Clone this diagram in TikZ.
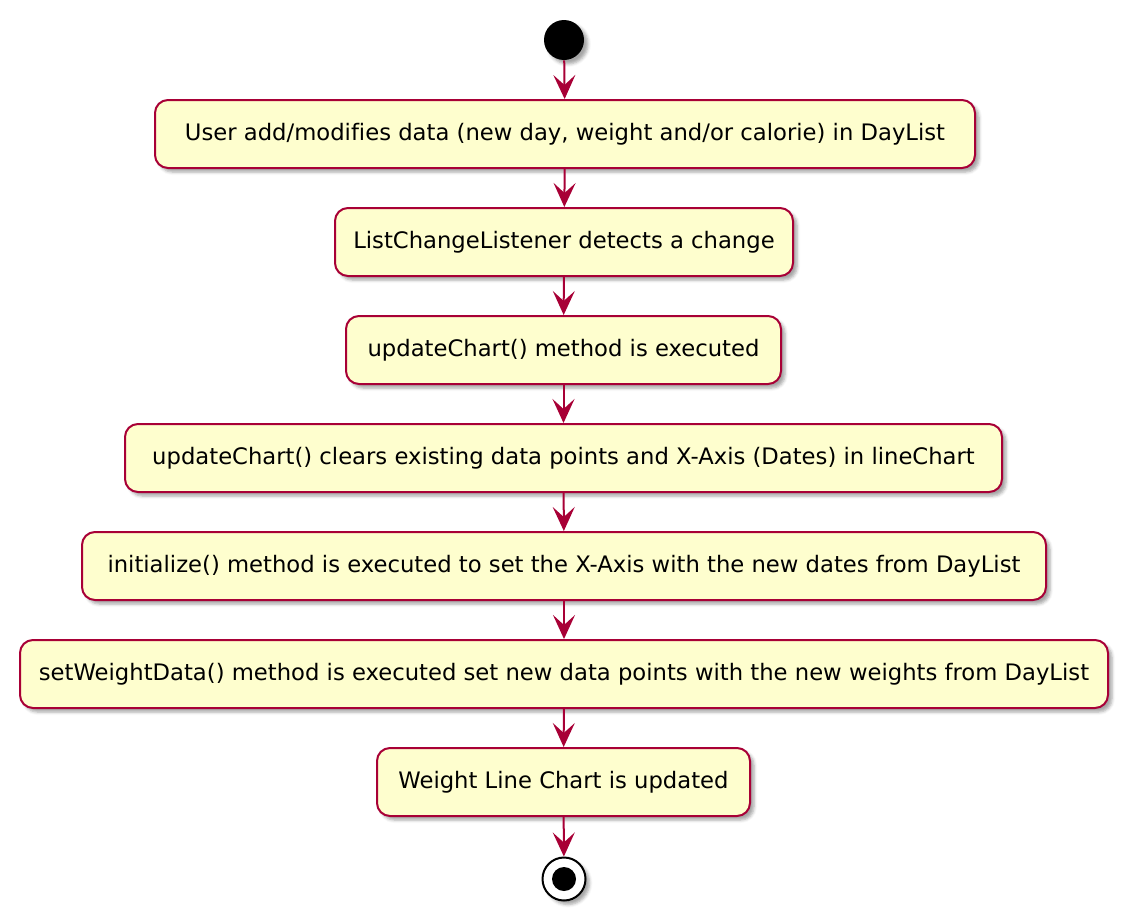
\documentclass[tikz,border=0pt]{standalone}
\usepackage{fontspec}
\setmainfont{DejaVu Sans}[Ligatures = NoCommon]
\usepackage{tikz}
\usetikzlibrary{arrows.meta, shadows.blur}

\definecolor{umlred}{HTML}{A80036}
\definecolor{umlfill}{HTML}{FEFECE}

\begin{document}
\begin{tikzpicture}[x=0.5pt, y=-0.5pt,
		act/.style = {draw = umlred, line width = 1pt, fill = umlfill, rounded corners = 6.5pt,
			minimum height = 34pt, inner sep = 0pt, font = \fontsize{11.35}{13}\selectfont,
			blur shadow = {shadow xshift = 2pt, shadow yshift = -2pt, shadow blur radius = 1.5pt, shadow opacity = 35}},
		flow/.style = {draw = umlred, line width = 1pt, -{Stealth[length = 12pt, width = 11pt, inset = 5pt]}}]
			\useasboundingbox (0, 0) rectangle (1128, 921);
			
			\node[circle, fill = black, minimum size = 20pt, inner sep = 0pt,
				blur shadow = {shadow xshift = 2pt, shadow yshift = -2pt, shadow blur radius = 1.5pt, shadow opacity = 35}] (start) at (564, 40) {};
			
			\node[act, minimum width = 410pt] (adddata) at (565, 134) {User add/modifies data (new day, weight and/or calorie) in DayList};
			\node[act, minimum width = 229pt] (listener) at (564, 242) {ListChangeListener detects a change};
			\node[act, minimum width = 217.5pt] (update) at (563.5, 350) {updateChart() method is executed};
			\node[act, minimum width = 438.5pt] (clear) at (563.5, 458) {updateChart() clears existing data points and X-Axis (Dates) in lineChart};
			\node[act, minimum width = 482pt] (init) at (564, 566) {initialize() method is executed to set the X-Axis with the new dates from DayList};
			\node[act, minimum width = 544pt] (setweight) at (564, 674) {setWeightData() method is executed set new data points with the new weights from DayList};
			\node[act, minimum width = 186.5pt] (updated) at (563.5, 782) {Weight Line Chart is updated};
			
			\node[circle, draw = black, line width = 1pt, fill = white, minimum size = 21.5pt, inner sep = 0pt,
				blur shadow = {shadow xshift = 2pt, shadow yshift = -2pt, shadow blur radius = 1.5pt, shadow opacity = 35}] (stop) at (564, 879) {};
			\fill[black] (stop.center) circle (6pt);
			
			\draw[flow] (start) -- (adddata);
			\draw[flow] (adddata) -- (listener);
			\draw[flow] (listener) -- (update);
			\draw[flow] (update) -- (clear);
			\draw[flow] (clear) -- (init);
			\draw[flow] (init) -- (setweight);
			\draw[flow] (setweight) -- (updated);
			\draw[flow] (updated) -- (stop);
			\end{tikzpicture}
\end{document}
